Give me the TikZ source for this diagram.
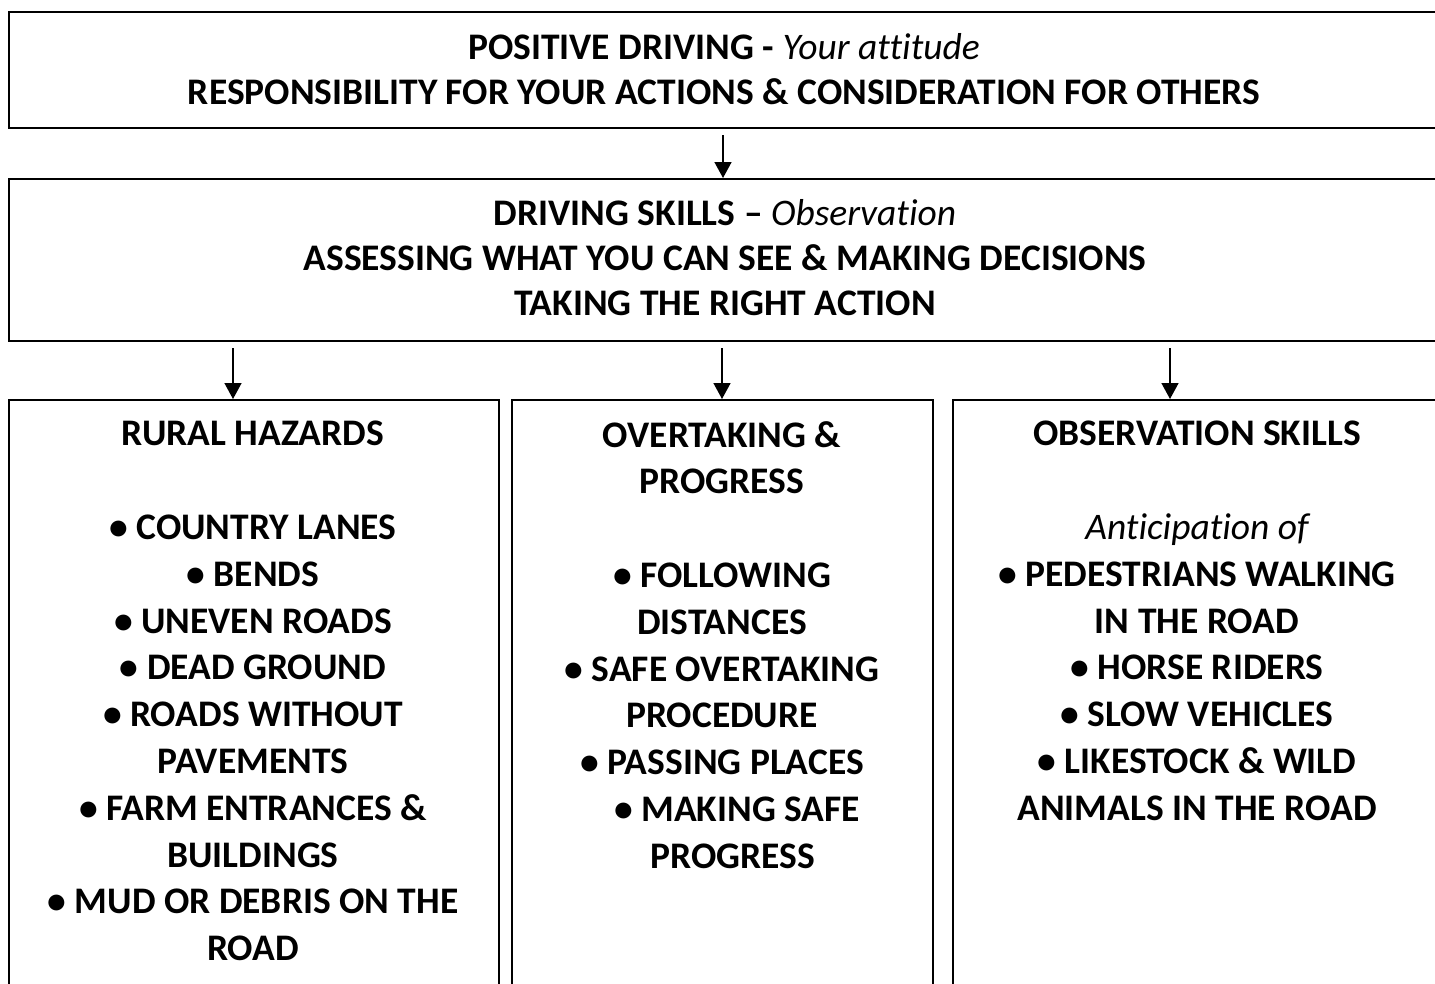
\documentclass[tikz,border=0pt]{standalone}
\usepackage{fontspec}
\setmainfont[Ligatures={NoCommon},RawFeature={-liga}]{Carlito}
\usetikzlibrary{arrows.meta}
\begin{document}
\begin{tikzpicture}[x=1pt,y=-1pt,
  box/.style={draw=black,line width=2pt,rectangle,inner sep=0pt,anchor=north west},
  txt/.style={inner sep=0pt,anchor=north,align=center,font=\fontsize{37.5}{45}\selectfont\bfseries},
  txtb/.style={txt,font=\fontsize{37.5}{46.8}\selectfont\bfseries},
  arr/.style={line width=1.5pt,-{Triangle[width=17pt,length=16pt]},shorten <=6pt}]
\clip (0,0) rectangle (1435,983);
% boxes
\node[box,minimum width=1450pt,minimum height=116pt] (top) at (8,11) {};
\node[box,minimum width=1450pt,minimum height=162pt] (mid) at (8,178) {};
\node[box,minimum width=490pt,minimum height=620pt] (boxA) at (8,399) {};
\node[box,minimum width=421pt,minimum height=620pt] (boxB) at (511,399) {};
\node[box,minimum width=490pt,minimum height=620pt] (boxC) at (952,399) {};
% texts
\node[txt] (tTop) at (724,33) {POSITIVE DRIVING - {\mdseries\itshape Your attitude}\\
RESPONSIBILITY FOR YOUR ACTIONS \& CONSIDERATION FOR OTHERS};
\node[txt] (tMid) at (725,199) {DRIVING SKILLS – {\mdseries\itshape Observation}\\
ASSESSING WHAT YOU CAN SEE \& MAKING DECISIONS\\
TAKING THE RIGHT ACTION};
\node[txtb] (tA) at (253,421) {RURAL HAZARDS\\ \mbox{}\\
• COUNTRY LANES\\ • BENDS\\ • UNEVEN ROADS\\ • DEAD GROUND\\
• ROADS WITHOUT\\ PAVEMENTS\\ • FARM ENTRANCES \&\\ BUILDINGS\\
• MUD OR DEBRIS ON THE\\ ROAD};
\node[txtb] (tB) at (722,421) {OVERTAKING \&\\ PROGRESS\\ \mbox{}\\
• FOLLOWING\\ DISTANCES\\ • SAFE OVERTAKING\\ PROCEDURE\\
• PASSING PLACES\\ \hspace*{30pt}• MAKING SAFE\\ \hspace*{22pt}PROGRESS};
\node[txtb] (tC) at (1197,421) {OBSERVATION SKILLS\\ \mbox{}\\
{\mdseries\itshape Anticipation of}\\
• PEDESTRIANS WALKING\\ IN THE ROAD\\ • HORSE RIDERS\\ • SLOW VEHICLES\\
• LIKESTOCK \& WILD\\ ANIMALS IN THE ROAD};
% arrow x positions
\coordinate (x0) at (723,0);
\coordinate (x1) at (233,0);
\coordinate (x2) at (722,0);
\coordinate (x3) at (1170,0);
\draw[arr] (top.south -| x0) -- (mid.north -| x0);
\draw[arr] (mid.south -| x1) -- (boxA.north -| x1);
\draw[arr] (mid.south -| x2) -- (boxB.north -| x2);
\draw[arr] (mid.south -| x3) -- (boxC.north -| x3);
\end{tikzpicture}
\end{document}
